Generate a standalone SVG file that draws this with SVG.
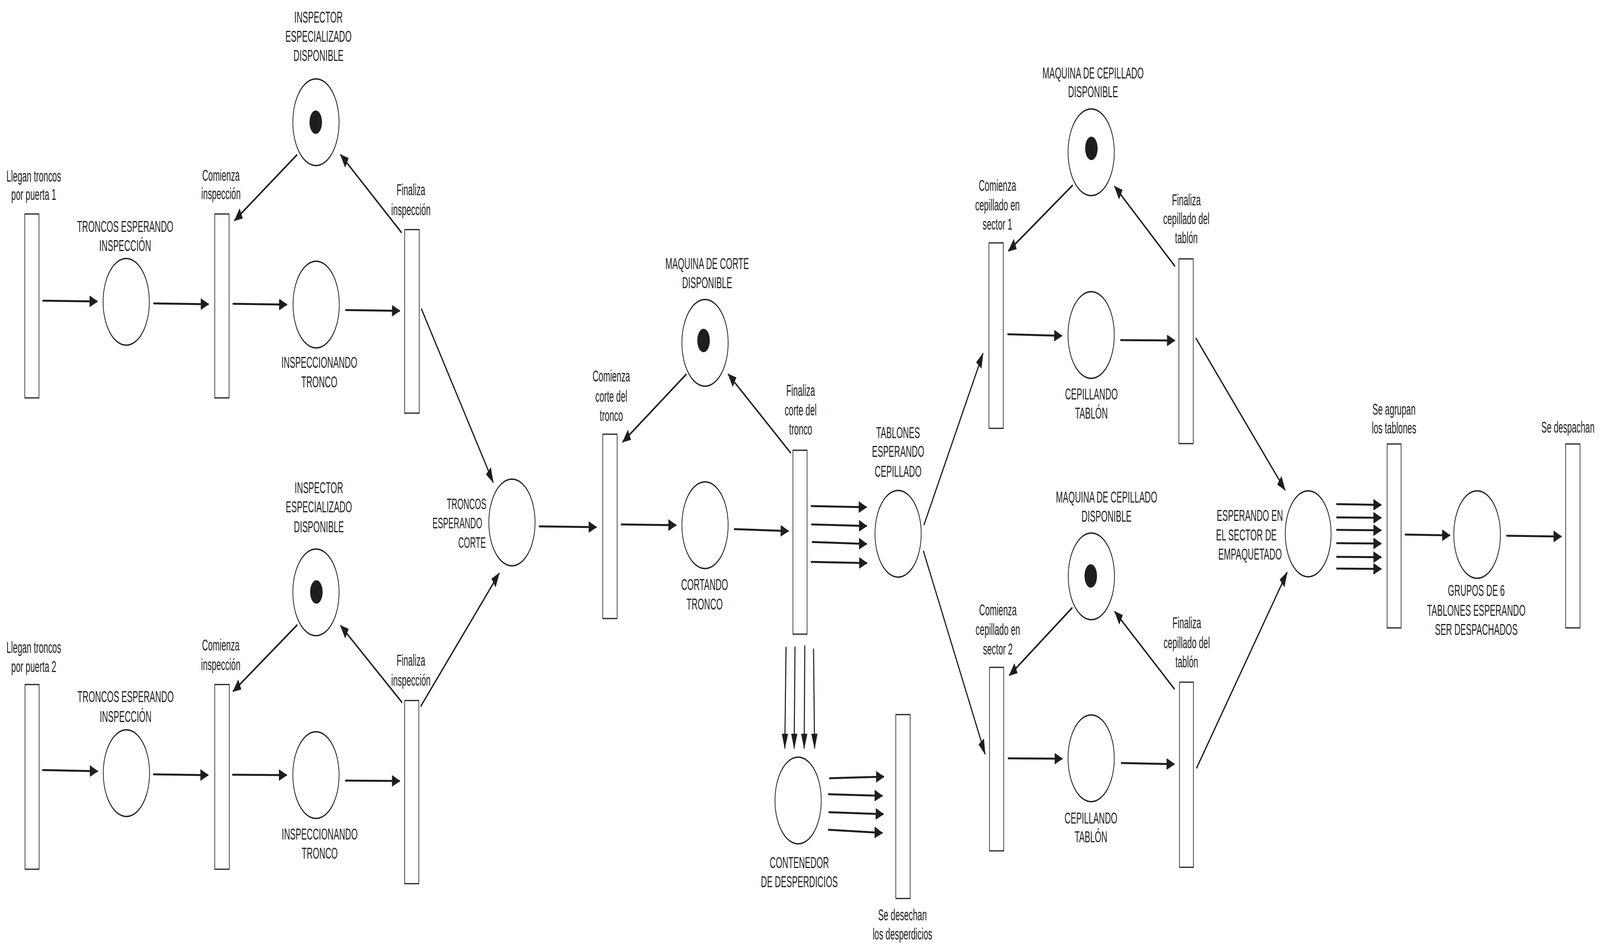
<svg xmlns="http://www.w3.org/2000/svg" width="7682" height="2438" viewBox="0 0 7682 2438" preserveAspectRatio="none" style="width:100vw;height:100vh;display:block">
<defs>
<style>
.tr{fill:none;stroke:#1e1e1e;stroke-width:3}
.pl{fill:none;stroke:#1e1e1e;stroke-width:3.5}
.tok{fill:#1e1e1e}
.lbl{font-family:"Liberation Sans",Arial,sans-serif;font-size:40px;fill:#1e1e1e;text-anchor:middle}
.sm{font-size:38px}
.edge line{stroke:#1e1e1e;stroke-width:5;stroke-linecap:round;marker-end:url(#ah)}
</style>
<marker id="ah" viewBox="0 0 40 30" refX="36" refY="15" markerWidth="40" markerHeight="30" markerUnits="userSpaceOnUse" orient="auto">
<path d="M0,0 L40,15 L0,30 z" fill="#1e1e1e"/>
</marker>
</defs>
<rect x="0" y="0" width="7682" height="2438" fill="#ffffff"/>

<g id="t-llegan1"><rect class="tr" x="119" y="548" width="68" height="471"/><text class="lbl"><tspan x="162" y="465">Llegan troncos</tspan><tspan x="162" y="512">por puerta 1</tspan></text></g>
<g id="t-comienza-insp1"><rect class="tr" x="1031" y="548" width="69" height="471"/><text class="lbl"><tspan x="1061" y="463">Comienza</tspan><tspan x="1061" y="510">inspección</tspan></text></g>
<g id="t-finaliza-insp1"><rect class="tr" x="1943" y="588" width="70" height="470"/><text class="lbl"><tspan x="1973" y="500">Finaliza</tspan><tspan x="1973" y="551">inspección</tspan></text></g>
<g id="t-llegan2"><rect class="tr" x="120" y="1753" width="68" height="473"/><text class="lbl"><tspan x="162" y="1672">Llegan troncos</tspan><tspan x="162" y="1721">por puerta 2</tspan></text></g>
<g id="t-comienza-insp2"><rect class="tr" x="1031" y="1753" width="70" height="473"/><text class="lbl"><tspan x="1060" y="1666">Comienza</tspan><tspan x="1060" y="1716">inspección</tspan></text></g>
<g id="t-finaliza-insp2"><rect class="tr" x="1943" y="1794" width="68" height="469"/><text class="lbl"><tspan x="1973" y="1705">Finaliza</tspan><tspan x="1973" y="1756">inspección</tspan></text></g>
<g id="t-comienza-corte"><rect class="tr" x="2894" y="1112" width="69" height="472"/><text class="lbl"><tspan x="2935" y="977">Comienza</tspan><tspan x="2935" y="1029">corte del</tspan><tspan x="2935" y="1078">tronco</tspan></text></g>
<g id="t-finaliza-corte"><rect class="tr" x="3807" y="1153" width="68" height="471"/><text class="lbl"><tspan x="3844" y="1014">Finaliza</tspan><tspan x="3844" y="1064">corte del</tspan><tspan x="3844" y="1113">tronco</tspan></text></g>
<g id="t-desechan"><rect class="tr" x="4301" y="1830" width="69" height="471"/><text class="lbl"><tspan x="4333" y="2357">Se desechan</tspan><tspan x="4333" y="2406">los desperdicios</tspan></text></g>
<g id="t-comienza-cep1"><rect class="tr" x="4748" y="622" width="69" height="475"/><text class="lbl"><tspan x="4789" y="489">Comienza</tspan><tspan x="4789" y="539">cepillado en</tspan><tspan x="4789" y="588">sector 1</tspan></text></g>
<g id="t-finaliza-cep1"><rect class="tr" x="5660" y="663" width="69" height="473"/><text class="lbl"><tspan x="5696" y="526">Finaliza</tspan><tspan x="5696" y="574">cepillado del</tspan><tspan x="5696" y="623">tablón</tspan></text></g>
<g id="t-comienza-cep2"><rect class="tr" x="4751" y="1709" width="68" height="470"/><text class="lbl"><tspan x="4791" y="1576">Comienza</tspan><tspan x="4791" y="1626">cepillado en</tspan><tspan x="4791" y="1676">sector 2</tspan></text></g>
<g id="t-finaliza-cep2"><rect class="tr" x="5663" y="1747" width="67" height="474"/><text class="lbl"><tspan x="5698" y="1609">Finaliza</tspan><tspan x="5698" y="1660">cepillado del</tspan><tspan x="5698" y="1709">tablón</tspan></text></g>
<g id="t-agrupan"><rect class="tr" x="6660" y="1137" width="67" height="471"/><text class="lbl"><tspan x="6693" y="1062">Se agrupan</tspan><tspan x="6693" y="1110">los tablones</tspan></text></g>
<g id="t-despachan"><rect class="tr" x="7517" y="1137" width="69" height="471"/><text class="lbl"><tspan x="7528" y="1108">Se despachan</tspan></text></g>

<g id="p-esperando-insp1"><circle class="pl" cx="606" cy="773" r="111"/><text class="lbl"><tspan x="601" y="594">TRONCOS ESPERANDO</tspan><tspan x="601" y="643">INSPECCIÓN</tspan></text></g>
<g id="p-inspector1"><circle class="pl" cx="1517" cy="313" r="111"/><circle class="tok" cx="1516" cy="313" r="30"/><text class="lbl"><tspan x="1529" y="58">INSPECTOR</tspan><tspan x="1529" y="107">ESPECIALIZADO</tspan><tspan x="1529" y="156">DISPONIBLE</tspan></text></g>
<g id="p-inspeccionando1"><circle class="pl" cx="1518" cy="780" r="111"/><text class="lbl"><tspan x="1533" y="942">INSPECCIONANDO</tspan><tspan x="1533" y="992">TRONCO</tspan></text></g>
<g id="p-esperando-insp2"><circle class="pl" cx="607" cy="1980" r="111"/><text class="lbl"><tspan x="603" y="1798">TRONCOS ESPERANDO</tspan><tspan x="603" y="1849">INSPECCIÓN</tspan></text></g>
<g id="p-inspector2"><circle class="pl" cx="1517" cy="1517" r="111"/><circle class="tok" cx="1519" cy="1516" r="30"/><text class="lbl"><tspan x="1531" y="1263">INSPECTOR</tspan><tspan x="1531" y="1312">ESPECIALIZADO</tspan><tspan x="1531" y="1363">DISPONIBLE</tspan></text></g>
<g id="p-inspeccionando2"><circle class="pl" cx="1517" cy="1985" r="111"/><text class="lbl"><tspan x="1535" y="2150">INSPECCIONANDO</tspan><tspan x="1535" y="2199">TRONCO</tspan></text></g>
<g id="p-esperando-corte"><circle class="pl" cx="2458" cy="1338" r="111"/><text class="lbl sm"><tspan x="2240" y="1304">TRONCOS</tspan><tspan x="2196" y="1353">ESPERANDO</tspan><tspan x="2266" y="1403">CORTE</tspan></text></g>
<g id="p-maquina-corte"><circle class="pl" cx="3385" cy="878" r="111"/><circle class="tok" cx="3378" cy="872" r="30"/><text class="lbl"><tspan x="3395" y="689">MAQUINA DE CORTE</tspan><tspan x="3395" y="738">DISPONIBLE</tspan></text></g>
<g id="p-cortando"><circle class="pl" cx="3385" cy="1345" r="111"/><text class="lbl"><tspan x="3383" y="1511">CORTANDO</tspan><tspan x="3383" y="1561">TRONCO</tspan></text></g>
<g id="p-tablones-esperando"><circle class="pl" cx="4312" cy="1367" r="111"/><text class="lbl"><tspan x="4312" y="1122">TABLONES</tspan><tspan x="4312" y="1170">ESPERANDO</tspan><tspan x="4312" y="1221">CEPILLADO</tspan></text></g>
<g id="p-contenedor"><circle class="pl" cx="3832" cy="2050" r="111"/><text class="lbl"><tspan x="3838" y="2223">CONTENEDOR</tspan><tspan x="3838" y="2272">DE DESPERDICIOS</tspan></text></g>
<g id="p-maquina-cep1"><circle class="pl" cx="5239" cy="390" r="111"/><circle class="tok" cx="5240" cy="380" r="30"/><text class="lbl"><tspan x="5248" y="201">MAQUINA DE CEPILLADO</tspan><tspan x="5248" y="249">DISPONIBLE</tspan></text></g>
<g id="p-cepillando1"><circle class="pl" cx="5239" cy="858" r="111"/><text class="lbl"><tspan x="5240" y="1023">CEPILLANDO</tspan><tspan x="5240" y="1072">TABLÓN</tspan></text></g>
<g id="p-maquina-cep2"><circle class="pl" cx="5240" cy="1476" r="111"/><circle class="tok" cx="5237" cy="1475" r="30"/><text class="lbl"><tspan x="5313" y="1287">MAQUINA DE CEPILLADO</tspan><tspan x="5313" y="1336">DISPONIBLE</tspan></text></g>
<g id="p-cepillando2"><circle class="pl" cx="5239" cy="1942" r="111"/><text class="lbl"><tspan x="5238" y="2109">CEPILLANDO</tspan><tspan x="5238" y="2157">TABLÓN</tspan></text></g>
<g id="p-empaquetado"><circle class="pl" cx="6281" cy="1367" r="110"/><text class="lbl"><tspan x="6001" y="1334">ESPERANDO EN</tspan><tspan x="5984" y="1384">EL SECTOR DE</tspan><tspan x="6002" y="1433">EMPAQUETADO</tspan></text></g>
<g id="p-grupos"><circle class="pl" cx="7092" cy="1369" r="112"/><text class="lbl"><tspan x="7088" y="1526">GRUPOS DE 6</tspan><tspan x="7088" y="1577">TABLONES ESPERANDO</tspan><tspan x="7088" y="1626">SER DESPACHADOS</tspan></text></g>

<g id="connectors" class="edge">
<line x1="206" y1="770" x2="466" y2="772"/>
<line x1="738" y1="777" x2="1000" y2="779"/>
<line x1="1425" y1="397" x2="1127" y2="564"/>
<line x1="1119" y1="778" x2="1376" y2="780"/>
<line x1="1660" y1="794" x2="1918" y2="796"/>
<line x1="1927" y1="595" x2="1636" y2="397"/>
<line x1="2024" y1="792" x2="2367" y2="1234"/>
<line x1="205" y1="1972" x2="467" y2="1975"/>
<line x1="737" y1="1983" x2="998" y2="1985"/>
<line x1="1426" y1="1601" x2="1120" y2="1770"/>
<line x1="1117" y1="1984" x2="1375" y2="1985"/>
<line x1="1659" y1="1999" x2="1918" y2="2000"/>
<line x1="1929" y1="1798" x2="1636" y2="1603"/>
<line x1="2021" y1="1808" x2="2396" y2="1469"/>
<line x1="2589" y1="1348" x2="2862" y2="1350"/>
<line x1="3294" y1="959" x2="2991" y2="1131"/>
<line x1="2983" y1="1343" x2="3245" y2="1345"/>
<line x1="3526" y1="1355" x2="3784" y2="1360"/>
<line x1="3795" y1="1159" x2="3497" y2="959"/>
<line x1="3895" y1="1296" x2="4159" y2="1299"/>
<line x1="3897" y1="1343" x2="4160" y2="1347"/>
<line x1="3900" y1="1388" x2="4160" y2="1393"/>
<line x1="3895" y1="1439" x2="4161" y2="1442"/>
<line x1="3774" y1="1658" x2="3768" y2="1915"/>
<line x1="3817" y1="1658" x2="3813" y2="1915"/>
<line x1="3864" y1="1655" x2="3861" y2="1915"/>
<line x1="3906" y1="1663" x2="3911" y2="1915"/>
<line x1="3983" y1="1993" x2="4242" y2="1989"/>
<line x1="3978" y1="2034" x2="4235" y2="2038"/>
<line x1="3980" y1="2080" x2="4240" y2="2085"/>
<line x1="3978" y1="2125" x2="4235" y2="2133"/>
<line x1="4437" y1="1343" x2="4719" y2="906"/>
<line x1="4434" y1="1412" x2="4729" y2="1930"/>
<line x1="5149" y1="475" x2="4843" y2="642"/>
<line x1="4839" y1="856" x2="5097" y2="860"/>
<line x1="5381" y1="871" x2="5639" y2="872"/>
<line x1="5640" y1="681" x2="5352" y2="478"/>
<line x1="5743" y1="867" x2="6169" y2="1254"/>
<line x1="5147" y1="1557" x2="4847" y2="1729"/>
<line x1="4841" y1="1942" x2="5099" y2="1943"/>
<line x1="5384" y1="1954" x2="5637" y2="1957"/>
<line x1="5638" y1="1764" x2="5353" y2="1567"/>
<line x1="5746" y1="1966" x2="6179" y2="1467"/>
<line x1="6418" y1="1291" x2="6630" y2="1293"/>
<line x1="6418" y1="1325" x2="6630" y2="1326"/>
<line x1="6418" y1="1357" x2="6630" y2="1358"/>
<line x1="6418" y1="1391" x2="6630" y2="1392"/>
<line x1="6418" y1="1426" x2="6630" y2="1427"/>
<line x1="6418" y1="1456" x2="6630" y2="1457"/>
<line x1="6747" y1="1369" x2="6960" y2="1371"/>
<line x1="7234" y1="1372" x2="7495" y2="1374"/>
</g>
</svg>
